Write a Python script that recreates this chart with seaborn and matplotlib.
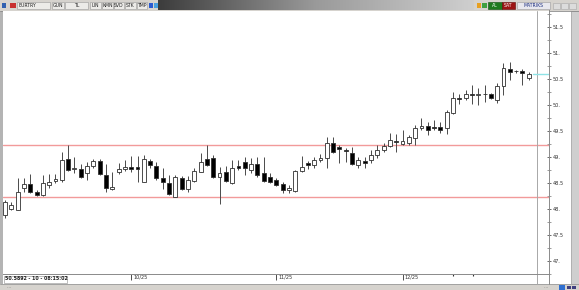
import matplotlib
matplotlib.use("Agg")
import matplotlib.pyplot as plt
import matplotlib.patches as mpatches
from matplotlib.transforms import ScaledTranslation
import numpy as np
import pandas as pd
import seaborn as sns

# ---------------- data ----------------
opens = [47.88, 48.00, 47.98, 48.40, 48.48, 48.33, 48.27, 48.46, 48.54, 48.56,
         48.96, 48.77, 48.77, 48.69, 48.83, 48.92, 48.65, 48.38, 48.71, 48.77,
         48.81, 48.81, 48.52, 48.92, 48.83, 48.60, 48.50, 48.23, 48.60, 48.38,
         48.54, 48.71, 48.96, 48.98, 48.62, 48.71, 48.50, 48.83, 48.90, 48.75,
         48.87, 48.69, 48.62, 48.56, 48.48, 48.37, 48.35, 48.73, 48.88, 48.85,
         48.94, 48.98, 49.27, 49.19, 49.13, 49.08, 48.85, 48.92, 48.94, 49.04,
         49.13, 49.21, 49.31, 49.25, 49.27, 49.37, 49.56, 49.60, 49.58, 49.58,
         49.56, 49.85, 50.13, 50.13, 50.21, 50.19, 50.21, 50.21, 50.10, 50.37,
         50.69, 50.65, 50.65, 50.52]
highs = [48.17, 48.13, 48.60, 48.60, 48.67, 48.37, 48.65, 48.67, 48.67, 49.10,
         49.23, 49.00, 48.87, 48.90, 48.96, 48.96, 48.87, 48.71, 48.88, 48.94,
         49.02, 49.02, 49.04, 48.96, 48.90, 48.79, 48.65, 48.65, 48.63, 48.63,
         48.79, 49.08, 49.23, 49.04, 48.81, 48.83, 48.94, 48.94, 49.00, 48.98,
         49.00, 49.00, 48.69, 48.60, 48.52, 48.46, 48.75, 49.02, 48.92, 49.00,
         49.06, 49.38, 49.38, 49.23, 49.17, 49.19, 49.00, 49.00, 49.13, 49.23,
         49.27, 49.46, 49.44, 49.52, 49.42, 49.62, 49.75, 49.67, 49.71, 49.67,
         49.90, 50.25, 50.21, 50.29, 50.38, 50.33, 50.38, 50.23, 50.42, 50.81,
         50.83, 50.67, 50.69, 50.63]
lows = [47.83, 47.98, 47.98, 48.33, 48.31, 48.25, 48.25, 48.40, 48.50, 48.52,
        48.73, 48.69, 48.60, 48.56, 48.79, 48.65, 48.33, 48.37, 48.67, 48.73,
        48.71, 48.52, 48.52, 48.79, 48.56, 48.38, 48.27, 48.23, 48.37, 48.33,
        48.52, 48.71, 48.83, 48.60, 48.10, 48.52, 48.48, 48.75, 48.65, 48.69,
        48.62, 48.52, 48.50, 48.44, 48.31, 48.31, 48.33, 48.71, 48.77, 48.79,
        48.90, 48.79, 49.08, 48.88, 48.90, 48.85, 48.79, 48.79, 48.88, 48.98,
        49.10, 49.19, 49.10, 49.23, 49.23, 49.23, 49.52, 49.42, 49.52, 49.46,
        49.44, 49.83, 50.02, 50.10, 50.02, 50.00, 50.06, 50.12, 50.04, 50.19,
        50.48, 50.62, 50.38, 50.48]
closes = [48.13, 48.08, 48.33, 48.48, 48.33, 48.27, 48.50, 48.52, 48.58, 48.94,
          48.75, 48.79, 48.62, 48.83, 48.92, 48.67, 48.40, 48.42, 48.77, 48.81,
          48.77, 48.77, 48.96, 48.85, 48.60, 48.52, 48.29, 48.62, 48.38, 48.56,
          48.73, 48.90, 48.85, 48.62, 48.69, 48.54, 48.79, 48.79, 48.79, 48.87,
          48.65, 48.54, 48.52, 48.46, 48.37, 48.40, 48.73, 48.81, 48.85, 48.94,
          48.98, 49.27, 49.10, 49.15, 49.12, 48.87, 48.94, 48.88, 49.04, 49.13,
          49.21, 49.33, 49.29, 49.31, 49.38, 49.56, 49.60, 49.52, 49.56, 49.52,
          49.87, 50.13, 50.12, 50.21, 50.19, 50.21, 50.21, 50.13, 50.37, 50.71,
          50.63, 50.65, 50.62, 50.59]

month_pos = [20, 43, 63]
month_labels = ["10/25", "11/25", "12/25"]
ytick_vals = [47.0, 47.5, 48.0, 48.5, 49.0, 49.5, 50.0, 50.5, 51.0, 51.5]
ytick_labels = ["47.", "47.5", "48.", "48.5", "49.", "49.5", "50.", "50.5", "51.", "51.5"]
channel_levels = [48.23, 49.23]
last_price = 50.5892
status_text = "50.5892 - 10 - 08:15:02"
toolbar_left = ["EURTRY", "GUN", "TL", "LIN", "KMN", "SVD", "STK", "TMP"]
toolbar_right = ["AL", "SAT", "MATRIKS"]

# ---------------- style ----------------
sns.set_theme(style="white")
plt.rcParams['font.family'] = ['DejaVu Sans']

W, H = 579, 290
fig = plt.figure(figsize=(W / 100, H / 100), dpi=100, facecolor="white")

# UI / frame layer in pixel coordinates
ui = fig.add_axes([0, 0, 1, 1], zorder=0)
ui.set_xlim(0, W)
ui.set_ylim(H, 0)
ui.axis("off")

def rect(x0, y0, x1, y1, fc, ec="none", lw=0.5, z=1):
    ui.add_patch(mpatches.Rectangle((x0, y0), x1 - x0, y1 - y0, facecolor=fc,
                                    edgecolor=ec, linewidth=lw, zorder=z))

# top toolbar
rect(0, 0, W, 10.5, "#d6d3ce")
grad = np.linspace(0, 1, 256).reshape(1, -1)
ui.imshow(grad, extent=(158, 474, 10, 0.5), cmap=matplotlib.colors.LinearSegmentedColormap.from_list(
    "g", ["#3c3c3c", "#9a9a9a", "#cfcfcf"]), aspect="auto", zorder=1.5)
ui.plot([0, W], [10.5, 10.5], color="#8a8a8a", lw=0.6, zorder=2)
rect(1.5, 2.5, 6, 8, "#3060b0", z=2)
rect(9.5, 2.5, 15.5, 8, "#c83030", z=2)

boxes = [(17, 50), (52, 64), (65, 88), (90, 101), (102, 113), (114, 124), (125, 136), (137, 147)]
for (x0, x1), lbl in zip(boxes, toolbar_left):
    rect(x0, 2, x1, 9, "#ecebe8", ec="#9a9a9a", lw=0.4, z=2)
    if lbl == "EURTRY":
        ui.text(x0 + 1.5, 5.6, lbl, fontsize=3.3, ha="left", va="center", color="#202020", zorder=3)
    else:
        ui.text((x0 + x1) / 2, 5.6, lbl, fontsize=3.3, ha="center", va="center", color="#202020", zorder=3)
rect(148.5, 3, 152.5, 8, "#2a5bd0", z=2)
rect(153.5, 3, 157.5, 8, "#48a0e0", z=2)

rect(477, 3, 481, 8, "#e8a020", z=2)
rect(482, 3, 486.5, 8, "#40a040", z=2)
rect(488, 2, 502, 9, "#1e7a1e", ec="#0f4f0f", lw=0.4, z=2)
ui.text(495, 5.6, toolbar_right[0], fontsize=3.3, ha="center", va="center", color="white", zorder=3)
rect(502, 2, 515, 9, "#9c1414", ec="#600a0a", lw=0.4, z=2)
ui.text(508.5, 5.6, toolbar_right[1], fontsize=3.3, ha="center", va="center", color="white", zorder=3)
rect(517, 2, 550, 9, "#e8e8ee", ec="#9a9a9a", lw=0.4, z=2)
ui.text(533.5, 5.6, toolbar_right[2], fontsize=3.3, ha="center", va="center", color="#1c2e80", zorder=3)
for bx in (553, 561, 569):
    rect(bx, 2.5, bx + 7, 8.5, "#dcdcdc", ec="#a8a8a8", lw=0.4, z=2)

# side and bottom panels
rect(0, 10.5, 3, 284, "#b4b4b4")
rect(571, 10.5, W, 284, "#cfcfcf", ec="#9a9a9a", lw=0.5)
rect(0, 284, W, H, "#d6d3ce")
ui.plot([0, W], [284, 284], color="#9a9a9a", lw=0.6, zorder=2)
ui.text(7, 287.3, "....", fontsize=3, ha="left", va="center", color="#505050", zorder=3)
ui.text(544, 287.3, "....", fontsize=3, ha="left", va="center", color="#505050", zorder=3)
rect(559, 285, 565, 289.5, "#3070d0", z=2)
rect(567, 285.5, 571, 289, "#404080", z=2)
rect(572, 285.5, 576, 289, "#404080", z=2)

# vertical line extensions into the time-axis band
ui.plot([537, 537], [274, 284], color="#a8a8a8", lw=0.7, zorder=2)
ui.plot([549, 549], [274, 284], color="#8a8a8a", lw=0.7, zorder=2)

# status box
rect(3.5, 275.5, 67, 282.5, "white", ec="#8a8a8a", lw=0.4, z=2)
ui.text(5, 279, status_text, fontsize=3.4, fontweight="bold", ha="left", va="center",
        color="#202020", zorder=3)

# ---------------- main candlestick axes ----------------
x0_px, x1_px, top_px, bot_px = 3, 549, 10.5, 274
ax = fig.add_axes([x0_px / W, 1 - bot_px / H, (x1_px - x0_px) / W, (bot_px - top_px) / H], zorder=1)
ax.set_facecolor("white")

df = pd.DataFrame({"open": opens, "high": highs, "low": lows, "close": closes})
df["idx"] = np.arange(len(df))
df["up"] = df["close"] >= df["open"]
df["bottom"] = df[["open", "close"]].min(axis=1)
df["height"] = (df["close"] - df["open"]).abs()

step_px = 6.31
first_px = 5.0
ax.set_xlim((x0_px - first_px) / step_px, (x1_px - first_px) / step_px)
ax.set_ylim(51.5 - (bot_px - 27) / 52.0, 51.5 + (27 - top_px) / 52.0)

# channel lines
for lvl in channel_levels:
    ax.axhline(lvl, color="#f29a9a", lw=1.0, zorder=1)

# separator line
ax.axvline((537 - first_px) / step_px, color="#a8a8a8", lw=0.7, zorder=1)

# last price marker
ax.plot([(533 - first_px) / step_px, (549 - first_px) / step_px], [last_price, last_price],
        color="#8fe3e6", lw=1.0, zorder=1)

# wicks
ax.vlines(df["idx"], df["low"], df["high"], color="#4a4a4a", lw=0.7, zorder=2)
# bodies
colors = ["white" if u else "black" for u in df["up"]]
ax.bar(df["idx"], df["height"], bottom=df["bottom"], width=0.62, color=colors,
       edgecolor="#303030", linewidth=0.6, zorder=3)

# y axis on the right
ax.yaxis.tick_right()
ax.set_yticks(ytick_vals, ytick_labels)
ax.set_yticks(np.arange(46.75, 51.8, 0.25), minor=True)
ax.tick_params(axis="y", which="major", direction="inout", length=3.2, width=0.5,
               labelsize=3.6, pad=1.2, colors="#303030", right=True, left=False)
ax.tick_params(axis="y", which="minor", direction="inout", length=2.2, width=0.4,
               colors="#505050", right=True, left=False)

# x axis month marks
ax.set_xticks(month_pos, month_labels)
ax.set_xticks([71, 74.2], minor=True)
ax.tick_params(axis="x", which="major", direction="out", length=4.2, width=0.6,
               labelsize=3.6, pad=-3.6, colors="#303030", bottom=True)
ax.tick_params(axis="x", which="minor", direction="out", length=1.5, width=0.8,
               colors="#303030", bottom=True)
offset = ScaledTranslation(1.5 / 72, 0, fig.dpi_scale_trans)
for lbl in ax.get_xticklabels():
    lbl.set_ha("left")
    lbl.set_transform(lbl.get_transform() + offset)

for side in ("left", "top"):
    ax.spines[side].set_visible(False)
ax.spines["right"].set_color("#8a8a8a")
ax.spines["right"].set_linewidth(0.7)
ax.spines["bottom"].set_color("#8a8a8a")
ax.spines["bottom"].set_linewidth(0.7)
ax.grid(False)

fig.savefig("out.png", dpi=100, facecolor="white")
